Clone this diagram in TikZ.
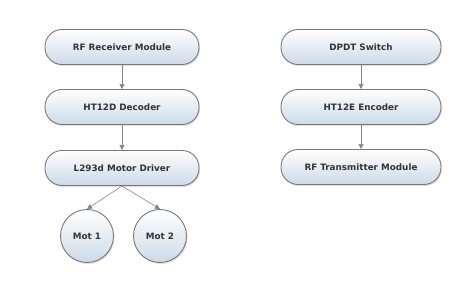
\documentclass[tikz,border=0pt]{standalone}
\usepackage{fontspec}
\setmainfont{DejaVu Sans}
\usepackage{tikz}
\usetikzlibrary{arrows.meta,shadows}
\definecolor{edgeg}{RGB}{118,120,124}
\definecolor{paleb}{RGB}{204,218,231}
\definecolor{linkg}{RGB}{135,135,135}
\definecolor{inkg}{RGB}{50,52,56}

\begin{document}
\begin{tikzpicture}[
      x=1pt,y=-1pt,
      >={Triangle[length=5pt,width=5pt]},
      blk/.style={draw=edgeg,line width=0.9pt,rounded corners=17pt,
                  minimum height=35pt,inner sep=2pt,align=center,
                  top color=white,bottom color=paleb,
                  drop shadow={shadow xshift=1pt,shadow yshift=-1.5pt,opacity=0.25},
                  font=\fontsize{8.8}{10}\selectfont\bfseries,text=inkg},
      mot/.style={blk,circle,rounded corners=0pt,minimum size=53pt,minimum height=53pt},
      link/.style={->,line width=0.6pt,color=linkg},
    ]
    \useasboundingbox (0,0) rectangle (474,286);
    % receiver side
    \node[blk,minimum width=154pt] (rx)  at (122,47)  {RF Receiver Module};
    \node[blk,minimum width=154pt] (dec) at (122,107) {HT12D Decoder};
    \node[blk,minimum width=154pt] (drv) at (122,168) {L293d Motor Driver};
    \node[mot] (m1) at (87,236)  {Mot 1};
    \node[mot] (m2) at (160,236) {Mot 2};
    % transmitter side
    \node[blk,minimum width=160pt] (sw)  at (361,47)  {DPDT Switch};
    \node[blk,minimum width=160pt] (enc) at (361,107) {HT12E Encoder};
    \node[blk,minimum width=160pt] (tx)  at (361,167) {RF Transmitter Module};
    \draw[link] (rx) -- (dec); \draw[link] (dec) -- (drv);
    \draw[link] (drv.south) -- (m1.north); \draw[link] (drv.south) -- (m2.north);
    \draw[link] (sw) -- (enc); \draw[link] (enc) -- (tx);
  \end{tikzpicture}
\end{document}
